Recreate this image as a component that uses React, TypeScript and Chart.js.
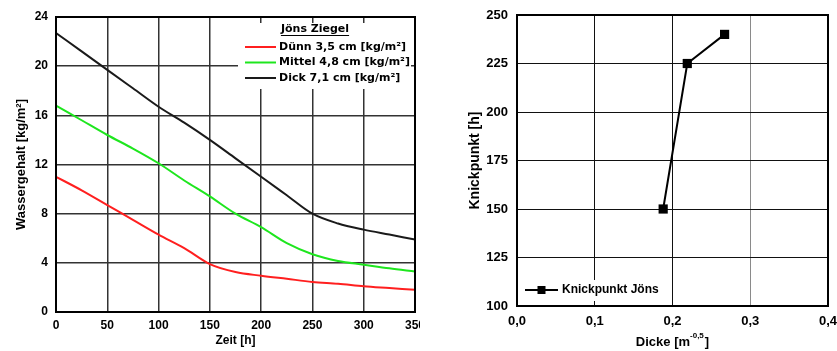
import React, { useEffect, useRef } from 'react';
import { Chart, registerables } from 'chart.js';

Chart.register(...registerables);

// ---------- Data: left chart (Wassergehalt over Zeit) ----------
const hours = [0, 25, 50, 75, 100, 125, 150, 175, 200, 225, 250, 275, 300, 325, 350];
const duenn = [11.0, 9.9, 8.7, 7.5, 6.3, 5.2, 3.9, 3.25, 2.95, 2.7, 2.45, 2.3, 2.1, 1.95, 1.8];
const mittel = [16.8, 15.6, 14.4, 13.3, 12.1, 10.7, 9.4, 8.0, 6.9, 5.6, 4.7, 4.15, 3.85, 3.55, 3.3];
const dick = [22.7, 21.2, 19.7, 18.2, 16.7, 15.4, 14.0, 12.5, 11.0, 9.5, 8.0, 7.2, 6.7, 6.3, 5.9];
const seriesLabels = ['Dünn 3,5 cm [kg/m²]', 'Mittel 4,8 cm [kg/m²]', 'Dick 7,1 cm [kg/m²]'];
const legendTitleLeft = 'Jöns Ziegel';
const xTitleLeft = 'Zeit [h]';
const yTitleLeft = 'Wassergehalt [kg/m²]';

// ---------- Data: right chart (Knickpunkt over Dicke) ----------
const dicke = [0.188, 0.219, 0.267];
const knickpunkt = [150, 225, 240];
const seriesLabelRight = 'Knickpunkt Jöns';
const yTitleRight = 'Knickpunkt [h]';
const xTitleRightMain = 'Dicke [m';
const xTitleRightSup = '-0,5';
const xTitleRightEnd = ']';

const ARIAL = '"Liberation Sans", Arial, sans-serif';
const VERD = '"DejaVu Sans", Verdana, sans-serif';

const framePlugin = {
  id: 'frame',
  afterDatasetsDraw(chart: any) {
    const { ctx, chartArea: a } = chart;
    ctx.save();
    ctx.strokeStyle = '#000';
    ctx.lineWidth = 2;
    ctx.strokeRect(a.left, a.top, a.right - a.left, a.bottom - a.top);
    ctx.restore();
  },
};

function LeftChart() {
  const ref = useRef<HTMLCanvasElement>(null);
  useEffect(() => {
    const colors = ['#ff1f1f', '#1ee61e', '#1a1a1a'];
    const series = [duenn, mittel, dick];
    const leftDecor = {
      id: 'leftDecor',
      afterDraw(chart: any) {
        const { ctx, chartArea: a } = chart;
        ctx.save();
        // axis titles
        ctx.fillStyle = '#000';
        ctx.font = `bold 12px ${ARIAL}`;
        ctx.textAlign = 'center';
        ctx.textBaseline = 'middle';
        ctx.fillText(xTitleLeft, (a.left + a.right) / 2, 341);
        ctx.save();
        ctx.translate(21, (a.top + a.bottom) / 2);
        ctx.rotate(-Math.PI / 2);
        ctx.font = `bold 13px ${ARIAL}`;
        ctx.fillText(yTitleLeft, 0, 0);
        ctx.restore();
        // legend
        ctx.fillStyle = '#fff';
        ctx.fillRect(238, 23, 173, 66);
        ctx.fillStyle = '#000';
        ctx.font = `bold 11px ${VERD}`;
        ctx.textAlign = 'center';
        ctx.fillText(legendTitleLeft, 315, 29);
        const tw = ctx.measureText(legendTitleLeft).width;
        ctx.strokeStyle = '#000';
        ctx.lineWidth = 1;
        ctx.beginPath();
        ctx.moveTo(315 - tw / 2, 35.5);
        ctx.lineTo(315 + tw / 2, 35.5);
        ctx.stroke();
        ctx.textAlign = 'left';
        chart.data.datasets.forEach((ds: any, i: number) => {
          const y = 47 + i * 15.5;
          ctx.strokeStyle = ds.borderColor;
          ctx.lineWidth = 2;
          ctx.beginPath();
          ctx.moveTo(245, y);
          ctx.lineTo(276, y);
          ctx.stroke();
          ctx.fillStyle = '#000';
          ctx.fillText(ds.label, 279, y);
        });
        ctx.restore();
      },
    };
    const chart = new Chart(ref.current!, {
      type: 'line',
      data: {
        datasets: series.map((s, i) => ({
          label: seriesLabels[i],
          data: hours.map((h, j) => ({ x: h, y: s[j] })),
          borderColor: colors[i],
          backgroundColor: colors[i],
          borderWidth: 2,
          pointRadius: 0,
          cubicInterpolationMode: 'monotone' as const,
        })),
      },
      options: {
        responsive: false,
        animation: false,
        devicePixelRatio: 1,
        layout: { padding: { top: 17, right: 5, left: 0, bottom: 0 } },
        plugins: { legend: { display: false }, tooltip: { enabled: false } },
        scales: {
          x: {
            type: 'linear',
            min: 0,
            max: 350,
            ticks: { stepSize: 50, padding: 6, color: '#000', maxRotation: 0, font: { family: ARIAL, weight: 'bold', size: 12 } },
            grid: { color: '#333', lineWidth: 1.5, drawTicks: false },
            border: { display: false },
            afterFit(s: any) { s.height = 39; s.paddingLeft = 0; s.paddingRight = 0; },
          },
          y: {
            type: 'linear',
            min: 0,
            max: 24,
            ticks: { stepSize: 4, padding: 8, color: '#000', font: { family: ARIAL, weight: 'bold', size: 12 } },
            grid: { color: '#333', lineWidth: 1.5, drawTicks: false },
            border: { display: false },
            afterFit(s: any) { s.width = 56; s.paddingTop = 0; s.paddingBottom = 0; },
          },
        },
      } as any,
      plugins: [framePlugin, leftDecor],
    });
    return () => chart.destroy();
  }, []);
  return <canvas ref={ref} width={420} height={351} style={{ display: 'block' }} />;
}

function RightChart() {
  const ref = useRef<HTMLCanvasElement>(null);
  useEffect(() => {
    const rightDecor = {
      id: 'rightDecor',
      afterDraw(chart: any) {
        const { ctx, chartArea: a } = chart;
        ctx.save();
        ctx.fillStyle = '#000';
        ctx.textBaseline = 'middle';
        // y title
        ctx.font = `bold 14px ${ARIAL}`;
        ctx.textAlign = 'center';
        ctx.save();
        ctx.translate(55, (a.top + a.bottom) / 2);
        ctx.rotate(-Math.PI / 2);
        ctx.fillText(yTitleRight, 0, 0);
        ctx.restore();
        // x title with superscript
        ctx.textAlign = 'left';
        ctx.font = `bold 13px ${ARIAL}`;
        const w1 = ctx.measureText(xTitleRightMain).width;
        const w3 = ctx.measureText(xTitleRightEnd).width;
        ctx.font = `bold 8px ${ARIAL}`;
        const w2 = ctx.measureText(xTitleRightSup).width;
        const total = w1 + w2 + w3 + 1;
        let x = (a.left + a.right) / 2 - total / 2;
        const y = 342;
        ctx.font = `bold 13px ${ARIAL}`;
        ctx.fillText(xTitleRightMain, x, y);
        x += w1;
        ctx.font = `bold 8px ${ARIAL}`;
        ctx.fillText(xTitleRightSup, x, y - 6);
        x += w2 + 1;
        ctx.font = `bold 13px ${ARIAL}`;
        ctx.fillText(xTitleRightEnd, x, y);
        // legend
        ctx.fillStyle = '#fff';
        ctx.fillRect(101, 280, 151, 21);
        const ds = chart.data.datasets[0];
        ctx.strokeStyle = ds.borderColor;
        ctx.lineWidth = 2;
        ctx.beginPath();
        ctx.moveTo(105, 290);
        ctx.lineTo(138, 290);
        ctx.stroke();
        ctx.fillStyle = ds.backgroundColor;
        ctx.fillRect(121.5 - 4, 290 - 4, 8, 8);
        ctx.fillStyle = '#000';
        ctx.font = `bold 12px ${ARIAL}`;
        ctx.fillText(ds.label, 142, 290);
        ctx.restore();
      },
    };
    const chart = new Chart(ref.current!, {
      type: 'line',
      data: {
        datasets: [
          {
            label: seriesLabelRight,
            data: dicke.map((d, i) => ({ x: d, y: knickpunkt[i] })),
            borderColor: '#000',
            backgroundColor: '#000',
            borderWidth: 2,
            pointStyle: 'rect',
            pointRadius: 6.5,
            pointBorderWidth: 0,
            tension: 0,
          },
        ],
      },
      options: {
        responsive: false,
        animation: false,
        devicePixelRatio: 1,
        layout: { padding: { top: 15, right: 9, left: 0, bottom: 0 } },
        plugins: { legend: { display: false }, tooltip: { enabled: false } },
        scales: {
          x: {
            type: 'linear',
            min: 0,
            max: 0.4,
            ticks: {
              stepSize: 0.1,
              padding: 8,
              color: '#000',
              maxRotation: 0,
              font: { family: ARIAL, weight: 'bold', size: 13 },
              callback: (v: any) => Number(v).toFixed(1).replace('.', ','),
            },
            grid: {
              color: (c: any) => (c.tick && Math.abs(c.tick.value - 0.3) < 1e-6 ? '#8a8a8a' : '#111'),
              lineWidth: 1,
              drawTicks: false,
            },
            border: { display: false },
            afterFit(s: any) { s.height = 45; s.paddingLeft = 0; s.paddingRight = 0; },
          },
          y: {
            type: 'linear',
            min: 100,
            max: 250,
            ticks: { stepSize: 25, padding: 9, color: '#000', font: { family: ARIAL, weight: 'bold', size: 13 } },
            grid: { color: '#111', lineWidth: 1, drawTicks: false },
            border: { display: false },
            afterFit(s: any) { s.width = 97; s.paddingTop = 0; s.paddingBottom = 0; },
          },
        },
      } as any,
      plugins: [framePlugin, rightDecor],
    });
    return () => chart.destroy();
  }, []);
  return <canvas ref={ref} width={417} height={351} style={{ display: 'block' }} />;
}

export default function App() {
  return (
    <div style={{ position: 'fixed', left: 0, top: 0, width: 837, height: 351, background: '#fff' }}>
      <div style={{ position: 'absolute', left: 0, top: 0 }}>
        <LeftChart />
      </div>
      <div style={{ position: 'absolute', left: 420, top: 0 }}>
        <RightChart />
      </div>
    </div>
  );
}
